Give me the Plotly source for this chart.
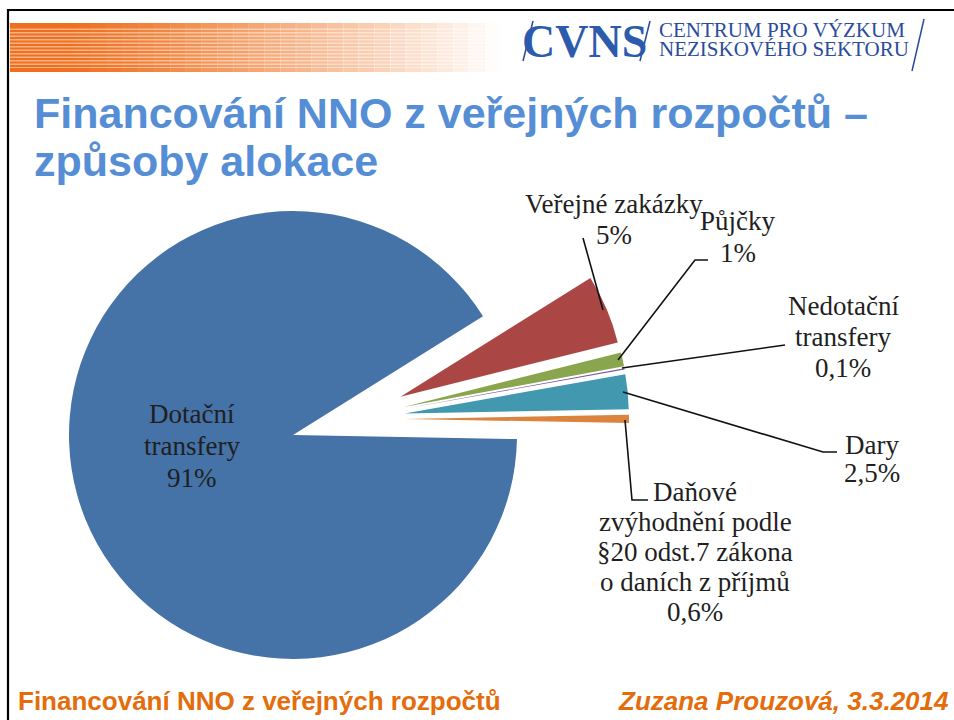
import plotly.graph_objects as go

W, H = 954, 720

# ---------------- data ----------------
labels = ["Veřejné zakázky", "Půjčky", "Nedotační transfery", "Dary",
          "Daňové zvýhodnění podle §20 odst.7 zákona o daních z příjmů",
          "Dotační transfery"]
values = [5, 1, 0.1, 2.5, 0.6, 91]
colors = ["#AA4643", "#89A54E", "#71588F", "#4198AF", "#DB843D", "#4572A7"]
label_lines = [["Veřejné zakázky"], ["Půjčky"], ["Nedotační", "transfery"], ["Dary"],
               ["Daňové", "zvýhodnění podle", "§20 odst.7 zákona", "o daních z příjmů"],
               ["Dotační", "transfery"]]
main_index = 5

title_lines = ["Financování NNO z veřejných rozpočtů –", "způsoby alokace"]
footer_left = "Financování NNO z veřejných rozpočtů"
footer_right = "Zuzana Prouzová, 3.3.2014"


def pct(v):
    return f"{v:g}".replace(".", ",") + "%"


# ---------------- helpers ----------------
def px(x):
    return x / W


def py(y):
    return 1 - y / H


def pie_domain(cx, cy, r, pull):
    half = r * (1 + pull)
    return dict(x=[(cx - half - 20) / W, (cx + half + 20) / W],
                y=[1 - (cy + half) / H, 1 - (cy - half) / H])


R = 224
ROT = 58
TRANSP = "rgba(0,0,0,0)"

fig = go.Figure()

# main slice (others hidden)
fig.add_trace(go.Pie(
    labels=labels, values=values, sort=False, direction="clockwise", rotation=ROT,
    marker=dict(colors=[colors[i] if i == main_index else TRANSP for i in range(len(values))],
                line=dict(width=0)),
    textinfo="none", hoverinfo="label+percent", showlegend=False,
    domain=pie_domain(293, 435, R, 0),
))

# exploded small slices (main hidden)
PULL = 0.2545
fig.add_trace(go.Pie(
    labels=labels, values=values, sort=False, direction="clockwise", rotation=ROT,
    pull=[0 if i == main_index else PULL for i in range(len(values))],
    marker=dict(colors=[TRANSP if i == main_index else colors[i] for i in range(len(values))],
                line=dict(width=0)),
    textinfo="none", hoverinfo="label+percent", showlegend=False,
    domain=pie_domain(348, 419, R, PULL),
))

annotations = []
shapes = []

# ---------------- data labels ----------------
label_pos = [  # (center x, first line y, line spacing)
    (614, 204, 31),
    (738, 221, 32),
    (843, 306, 31),
    (872, 445, 28),
    (695, 492, 30),
    (192, 414, 32),
]
LABEL_FONT = dict(family="Liberation Serif", size=27, color="#1f1f1f")
for i, lines in enumerate(label_lines):
    cx, y0, dy = label_pos[i]
    all_lines = lines + [pct(values[i])]
    for k, t in enumerate(all_lines):
        annotations.append(dict(x=px(cx), y=py(y0 + k * dy), xref="paper", yref="paper",
                                text=t, showarrow=False, xanchor="center", yanchor="middle",
                                font=LABEL_FONT))

# leader lines
leaders = [
    [(583, 238), (603, 310)],
    [(618, 360), (695, 260), (708, 260)],
    [(622, 368), (785, 345)],
    [(623, 392), (823, 452), (837, 452)],
    [(625, 420), (632, 500), (648, 500)],
]
for pts in leaders:
    path = "M " + " L ".join(f"{px(x):.5f},{py(y):.5f}" for x, y in pts)
    shapes.append(dict(type="path", path=path, xref="paper", yref="paper",
                       line=dict(color="#111111", width=1.6)))

# ---------------- slide decoration ----------------
# border
shapes.append(dict(type="line", xref="paper", yref="paper", x0=px(7), x1=px(W), y0=py(10), y1=py(10),
                   line=dict(color="black", width=2.2)))
shapes.append(dict(type="line", xref="paper", yref="paper", x0=px(8), x1=px(8), y0=py(9), y1=py(H),
                   line=dict(color="black", width=2.2)))

# orange stripes header
sx0, sx1, sy0, sy1 = 10, 500, 23, 72
shapes.append(dict(type="rect", xref="paper", yref="paper", x0=px(sx0), x1=px(sx1),
                   y0=py(sy0), y1=py(sy1), fillcolor="#F8B384", line=dict(width=0), layer="above"))
ys = sy0
while ys < sy1 - 1:
    shapes.append(dict(type="rect", xref="paper", yref="paper", x0=px(sx0), x1=px(sx1),
                       y0=py(ys), y1=py(min(ys + 2, sy1)), fillcolor="#F06F1E",
                       line=dict(width=0), layer="above"))
    ys += 3.5
shapes.append(dict(type="rect", xref="paper", yref="paper", x0=px(sx0), x1=px(sx1),
                   y0=py(sy0), y1=py(sy0 + 4), fillcolor="#F06F1E", line=dict(width=0), layer="above"))
shapes.append(dict(type="rect", xref="paper", yref="paper", x0=px(sx0), x1=px(sx1),
                   y0=py(sy1 - 4), y1=py(sy1), fillcolor="#F06F1E", line=dict(width=0), layer="above"))
nseg = 28
fx0 = 60
seg = (sx1 - fx0) / nseg
for s in range(nseg):
    a = ((s + 0.5) / nseg) ** 1.2
    shapes.append(dict(type="rect", xref="paper", yref="paper", x0=px(fx0 + s * seg), x1=px(fx0 + (s + 1) * seg + 0.5),
                       y0=py(sy0 - 1), y1=py(sy1 + 1), fillcolor="white", opacity=min(a, 1),
                       line=dict(width=0), layer="above"))

# logo
LOGO_BLUE = "#2C5BAE"
LOGO_DARK = "#2B4C9B"
annotations.append(dict(x=px(584), y=py(41), xref="paper", yref="paper", text="<b>CVNS</b>",
                        showarrow=False, xanchor="center", yanchor="middle",
                        font=dict(family="Liberation Serif", size=46, color=LOGO_BLUE)))
yy = 24
while yy < 58:
    shapes.append(dict(type="line", xref="paper", yref="paper", x0=px(528), x1=px(640),
                       y0=py(yy), y1=py(yy), line=dict(color="white", width=1), layer="above"))
    yy += 3
for (xa, ya, xb, yb) in [(523, 61, 533, 21), (640, 61, 650, 21), (912, 71, 924, 19)]:
    shapes.append(dict(type="line", xref="paper", yref="paper", x0=px(xa), x1=px(xb),
                       y0=py(ya), y1=py(yb), line=dict(color=LOGO_DARK, width=1.5), layer="above"))
annotations.append(dict(x=px(657), y=py(30), xref="paper", yref="paper", text="CENTRUM PRO VÝZKUM",
                        showarrow=False, xanchor="left", yanchor="middle",
                        font=dict(family="Liberation Serif", size=21, color=LOGO_DARK)))
annotations.append(dict(x=px(657), y=py(49), xref="paper", yref="paper", text="NEZISKOVÉHO SEKTORU",
                        showarrow=False, xanchor="left", yanchor="middle",
                        font=dict(family="Liberation Serif", size=21, color=LOGO_DARK)))

# title
TITLE_FONT = dict(family="Liberation Sans", size=43, color="#558ED5")
for k, (t, yc) in enumerate(zip(title_lines, [113, 161])):
    annotations.append(dict(x=px(32), y=py(yc), xref="paper", yref="paper", text=f"<b>{t}</b>",
                            showarrow=False, xanchor="left", yanchor="middle", font=TITLE_FONT))

# footer
FOOT_FONT = dict(family="Liberation Sans", size=26, color="#E46C0A")
annotations.append(dict(x=px(16), y=py(701), xref="paper", yref="paper", text=f"<b>{footer_left}</b>",
                        showarrow=False, xanchor="left", yanchor="middle", font=FOOT_FONT))
annotations.append(dict(x=px(951), y=py(701), xref="paper", yref="paper", text=f"<b><i>{footer_right}</i></b>",
                        showarrow=False, xanchor="right", yanchor="middle", font=FOOT_FONT))

fig.update_layout(
    width=W, height=H,
    margin=dict(l=0, r=0, t=0, b=0),
    paper_bgcolor="white", plot_bgcolor="white",
    showlegend=False,
    annotations=annotations,
    shapes=shapes,
)

fig.write_html("out.html", config={"displayModeBar": False},
               post_script="document.body.style.margin='0px';document.body.style.overflow='hidden';")
